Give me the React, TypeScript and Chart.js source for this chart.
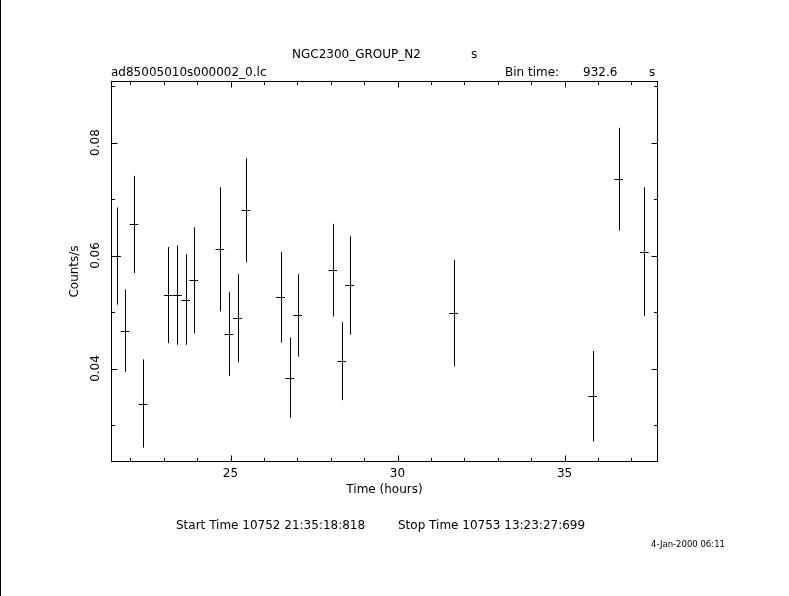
import React, { useEffect, useRef } from "react";
import { Chart, registerables } from "chart.js";

Chart.register(...registerables);

// ---- data ----
const timesHours = [
  21.59, 21.84, 22.11, 22.38, 23.14, 23.41, 23.66, 23.9, 24.68, 24.95, 25.21,
  25.46, 26.5, 26.77, 27.01, 28.06, 28.33, 28.57, 31.68, 35.84, 36.62, 37.39,
];
const rates = [
  0.0599, 0.0467, 0.0655, 0.0338, 0.053, 0.053, 0.0522, 0.0556, 0.0611,
  0.0461, 0.0489, 0.068, 0.0526, 0.0384, 0.0494, 0.0574, 0.0413, 0.0547,
  0.0498, 0.0351, 0.0735, 0.0607,
];
const rateErrors = [
  0.0086, 0.0073, 0.0086, 0.0078, 0.0085, 0.0088, 0.008, 0.0094, 0.011,
  0.0074, 0.0078, 0.0092, 0.008, 0.0071, 0.0073, 0.0082, 0.0069, 0.0087,
  0.0094, 0.008, 0.0091, 0.0114,
];
const binTimeSec = 932.6;

const xRange = [21.437, 37.784];
const yRange = [0.02354, 0.0908];
const xMajorTicks = [25, 30, 35];
const xMinorTicks = [22, 23, 24, 26, 27, 28, 29, 31, 32, 33, 34, 36, 37];
const yMajorTicks = [0.04, 0.06, 0.08];
const yMinorTicks = [0.03, 0.05, 0.07, 0.09];
const yTickLabels = ["0.04", "0.06", "0.08"];

const titleText = "NGC2300_GROUP_N2";
const titleUnit = "s";
const fileName = "ad85005010s000002_0.lc";
const binLabel = "Bin time:";
const binValue = "932.6";
const binUnit = "s";
const xTitle = "Time (hours)";
const yTitle = "Counts/s";
const startText = "Start Time 10752 21:35:18:818";
const stopText = "Stop Time 10753 13:23:27:699";
const dateText = "4-Jan-2000 06:11";

const FAMILY = '"DejaVu Sans", sans-serif';

const decor = {
  id: "decor",
  afterDatasetsDraw(chart: any) {
    const { ctx, chartArea: a, scales } = chart;
    const x = scales.x;
    const y = scales.y;
    const hw = binTimeSec / 2 / 3600;
    ctx.save();
    ctx.beginPath();
    ctx.rect(a.left, a.top, a.right - a.left, a.bottom - a.top);
    ctx.clip();
    ctx.strokeStyle = "#000";
    ctx.lineWidth = 1;
    ctx.beginPath();
    timesHours.forEach((t, i) => {
      const px = Math.round(x.getPixelForValue(t)) + 0.5;
      const py = Math.round(y.getPixelForValue(rates[i])) + 0.5;
      ctx.moveTo(px, y.getPixelForValue(rates[i] + rateErrors[i]));
      ctx.lineTo(px, y.getPixelForValue(rates[i] - rateErrors[i]));
      ctx.moveTo(x.getPixelForValue(t - hw), py);
      ctx.lineTo(x.getPixelForValue(t + hw), py);
    });
    ctx.stroke();
    ctx.restore();
  },
  afterDraw(chart: any) {
    const { ctx, chartArea: a, scales } = chart;
    const x = scales.x;
    const y = scales.y;
    ctx.save();
    ctx.strokeStyle = "#000";
    ctx.fillStyle = "#000";
    ctx.lineWidth = 1;
    // frame
    ctx.strokeRect(a.left, a.top, a.right - a.left, a.bottom - a.top);
    // ticks
    ctx.beginPath();
    const xt = (v: number, len: number) => {
      const px = Math.round(x.getPixelForValue(v)) + 0.5;
      ctx.moveTo(px, a.bottom);
      ctx.lineTo(px, a.bottom - len);
      ctx.moveTo(px, a.top);
      ctx.lineTo(px, a.top + len);
    };
    const yt = (v: number, len: number) => {
      const py = Math.round(y.getPixelForValue(v)) + 0.5;
      ctx.moveTo(a.left, py);
      ctx.lineTo(a.left + len, py);
      ctx.moveTo(a.right, py);
      ctx.lineTo(a.right - len, py);
    };
    xMajorTicks.forEach((v) => xt(v, 6));
    xMinorTicks.forEach((v) => xt(v, 3.5));
    yMajorTicks.forEach((v) => yt(v, 6));
    yMinorTicks.forEach((v) => yt(v, 3.5));
    ctx.stroke();

    // left page border
    ctx.fillRect(0, 0, 1, chart.height);

    // texts
    ctx.font = `12px ${FAMILY}`;
    ctx.textBaseline = "middle";
    ctx.textAlign = "left";
    ctx.fillText(titleText, 292, 55);
    ctx.fillText(titleUnit, 471, 55);
    ctx.fillText(fileName, 111, 73);
    ctx.fillText(binLabel, 505, 73);
    ctx.fillText(binValue, 583, 73);
    ctx.fillText(binUnit, 649, 73);
    ctx.fillText(startText, 176, 526);
    ctx.fillText(stopText, 398, 526);
    ctx.font = `8.5px ${FAMILY}`;
    ctx.fillText(dateText, 651, 544.5);

    // rotated y tick labels
    ctx.font = `12px ${FAMILY}`;
    ctx.textAlign = "center";
    yMajorTicks.forEach((v, i) => {
      const py = y.getPixelForValue(v);
      ctx.save();
      ctx.translate(96, py);
      ctx.rotate(-Math.PI / 2);
      ctx.fillText(yTickLabels[i], 0, 0);
      ctx.restore();
    });
    ctx.restore();
  },
};

export default function App() {
  const ref = useRef<HTMLCanvasElement | null>(null);
  useEffect(() => {
    if (!ref.current) return;
    const chart = new Chart(ref.current, {
      type: "scatter",
      data: {
        datasets: [
          {
            data: timesHours.map((t, i) => ({ x: t, y: rates[i] })),
            pointRadius: 0,
            showLine: false,
            borderColor: "#000",
            backgroundColor: "#000",
          },
        ],
      },
      options: {
        responsive: false,
        animation: false,
        devicePixelRatio: 1,
        layout: { padding: { left: 0, top: 81.5, right: 131.5, bottom: 98.8 } },
        plugins: { legend: { display: false }, tooltip: { enabled: false } },
        scales: {
          x: {
            type: "linear",
            position: "bottom",
            min: xRange[0],
            max: xRange[1],
            grid: { display: false, drawTicks: false },
            border: { display: false },
            afterBuildTicks: (s: any) => {
              s.ticks = xMajorTicks.map((v) => ({ value: v }));
            },
            ticks: {
              font: { family: FAMILY, size: 12 },
              color: "#000",
              padding: 5,
              maxRotation: 0,
              autoSkip: false,
              callback: (v: any) => String(v),
            },
            title: {
              display: true,
              text: xTitle,
              color: "#000",
              font: { family: FAMILY, size: 12 },
              padding: { top: 0, bottom: 0 },
            },
            afterFit: (s: any) => {
              s.height = 35.7;
            },
          },
          y: {
            type: "linear",
            position: "left",
            min: yRange[0],
            max: yRange[1],
            grid: { display: false, drawTicks: false },
            border: { display: false },
            ticks: { display: false },
            title: {
              display: true,
              text: yTitle,
              color: "#000",
              font: { family: FAMILY, size: 12 },
              padding: { top: 67.3, bottom: 0 },
            },
            afterFit: (s: any) => {
              s.width = 111.5;
            },
          },
        },
      } as any,
      plugins: [decor],
    });
    return () => chart.destroy();
  }, []);
  return (
    <div style={{ position: "absolute", left: 0, top: 0, width: 789, height: 596, background: "#fff" }}>
      <canvas ref={ref} width={789} height={596} style={{ display: "block" }} />
    </div>
  );
}
